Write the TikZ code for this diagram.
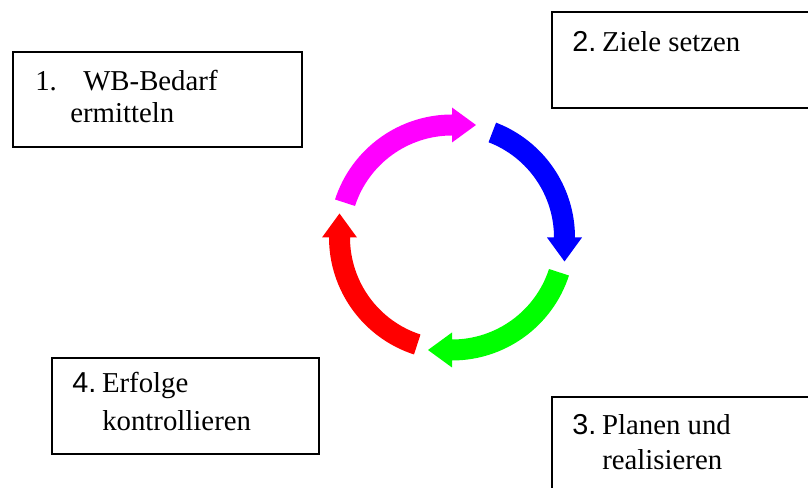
\documentclass[tikz,border=0pt]{standalone}
\usepackage{fontspec}
\setmainfont{Liberation Serif}
\newfontfamily\arialf{Liberation Sans}
\definecolor{cmag}{RGB}{255,0,255}
\definecolor{cblue}{RGB}{0,0,255}
\definecolor{cgreen}{RGB}{0,255,0}
\definecolor{cred}{RGB}{255,0,0}
\begin{document}
\begin{tikzpicture}[x=0.75pt,y=0.75pt,
  box/.style={draw=black, line width=1.1pt, inner sep=0pt, outer sep=0pt},
  lbl/.style={anchor=base west, inner sep=0pt, font=\fontsize{21.6}{26}\selectfont}]
\clip (0,0) rectangle (808,488);
\fill[white] (0,0) rectangle (808,488);
% boxes
\node[box, minimum width=216.75pt, minimum height=71.25pt] (b1) at (157.5,388.5) {};
\node[box, minimum width=208.5pt, minimum height=72pt] (b2) at (691,428) {};
\node[box, minimum width=208.5pt, minimum height=77.25pt] (b3) at (691,39.5) {};
\node[box, minimum width=200.25pt, minimum height=72pt] (b4) at (185.5,82) {};
% texts
\node[lbl] (t1a) at (35,397.5) {1.};
\node[lbl] (t1b) at (83,397.5) {WB-Bedarf};
\node[lbl] (t1c) at (70,365.5) {ermitteln};
\node[lbl] (t2) at (572,436.5) {{\arialf 2.}\hspace{0.2em}Ziele setzen};
\node[lbl] (t3a) at (572,53) {{\arialf 3.}\hspace{0.2em}Planen und};
\node[lbl] (t3b) at (602,18) {realisieren};
\node[lbl] (t4a) at (72,95) {{\arialf 4.}\hspace{0.2em}Erfolge};
\node[lbl] (t4b) at (102,57) {kontrollieren};
% cycle arrows
\begin{scope}[shift={(452,250.5)}]
\fill[cmag] (162:123) arc[start angle=162, end angle=90, radius=92.25pt]
  -- (90:130) -- (77.96:115.03) -- (90:95) -- (90:102)
  arc[start angle=90, end angle=162, radius=76.5pt] -- cycle;
\fill[cblue] (69:123) arc[start angle=69, end angle=0, radius=92.25pt]
  -- (0:130) -- (-12.04:115.03) -- (0:95) -- (0:102)
  arc[start angle=0, end angle=69, radius=76.5pt] -- cycle;
\fill[cgreen] (-18:123) arc[start angle=-18, end angle=-90, radius=92.25pt]
  -- (-90:130) -- (-102.04:115.03) -- (-90:95) -- (-90:102)
  arc[start angle=-90, end angle=-18, radius=76.5pt] -- cycle;
\fill[cred] (-108:123) arc[start angle=-108, end angle=-180, radius=92.25pt]
  -- (-180:130) -- (-192.04:115.03) -- (-180:95) -- (-180:102)
  arc[start angle=-180, end angle=-108, radius=76.5pt] -- cycle;
\end{scope}
\end{tikzpicture}
\end{document}
